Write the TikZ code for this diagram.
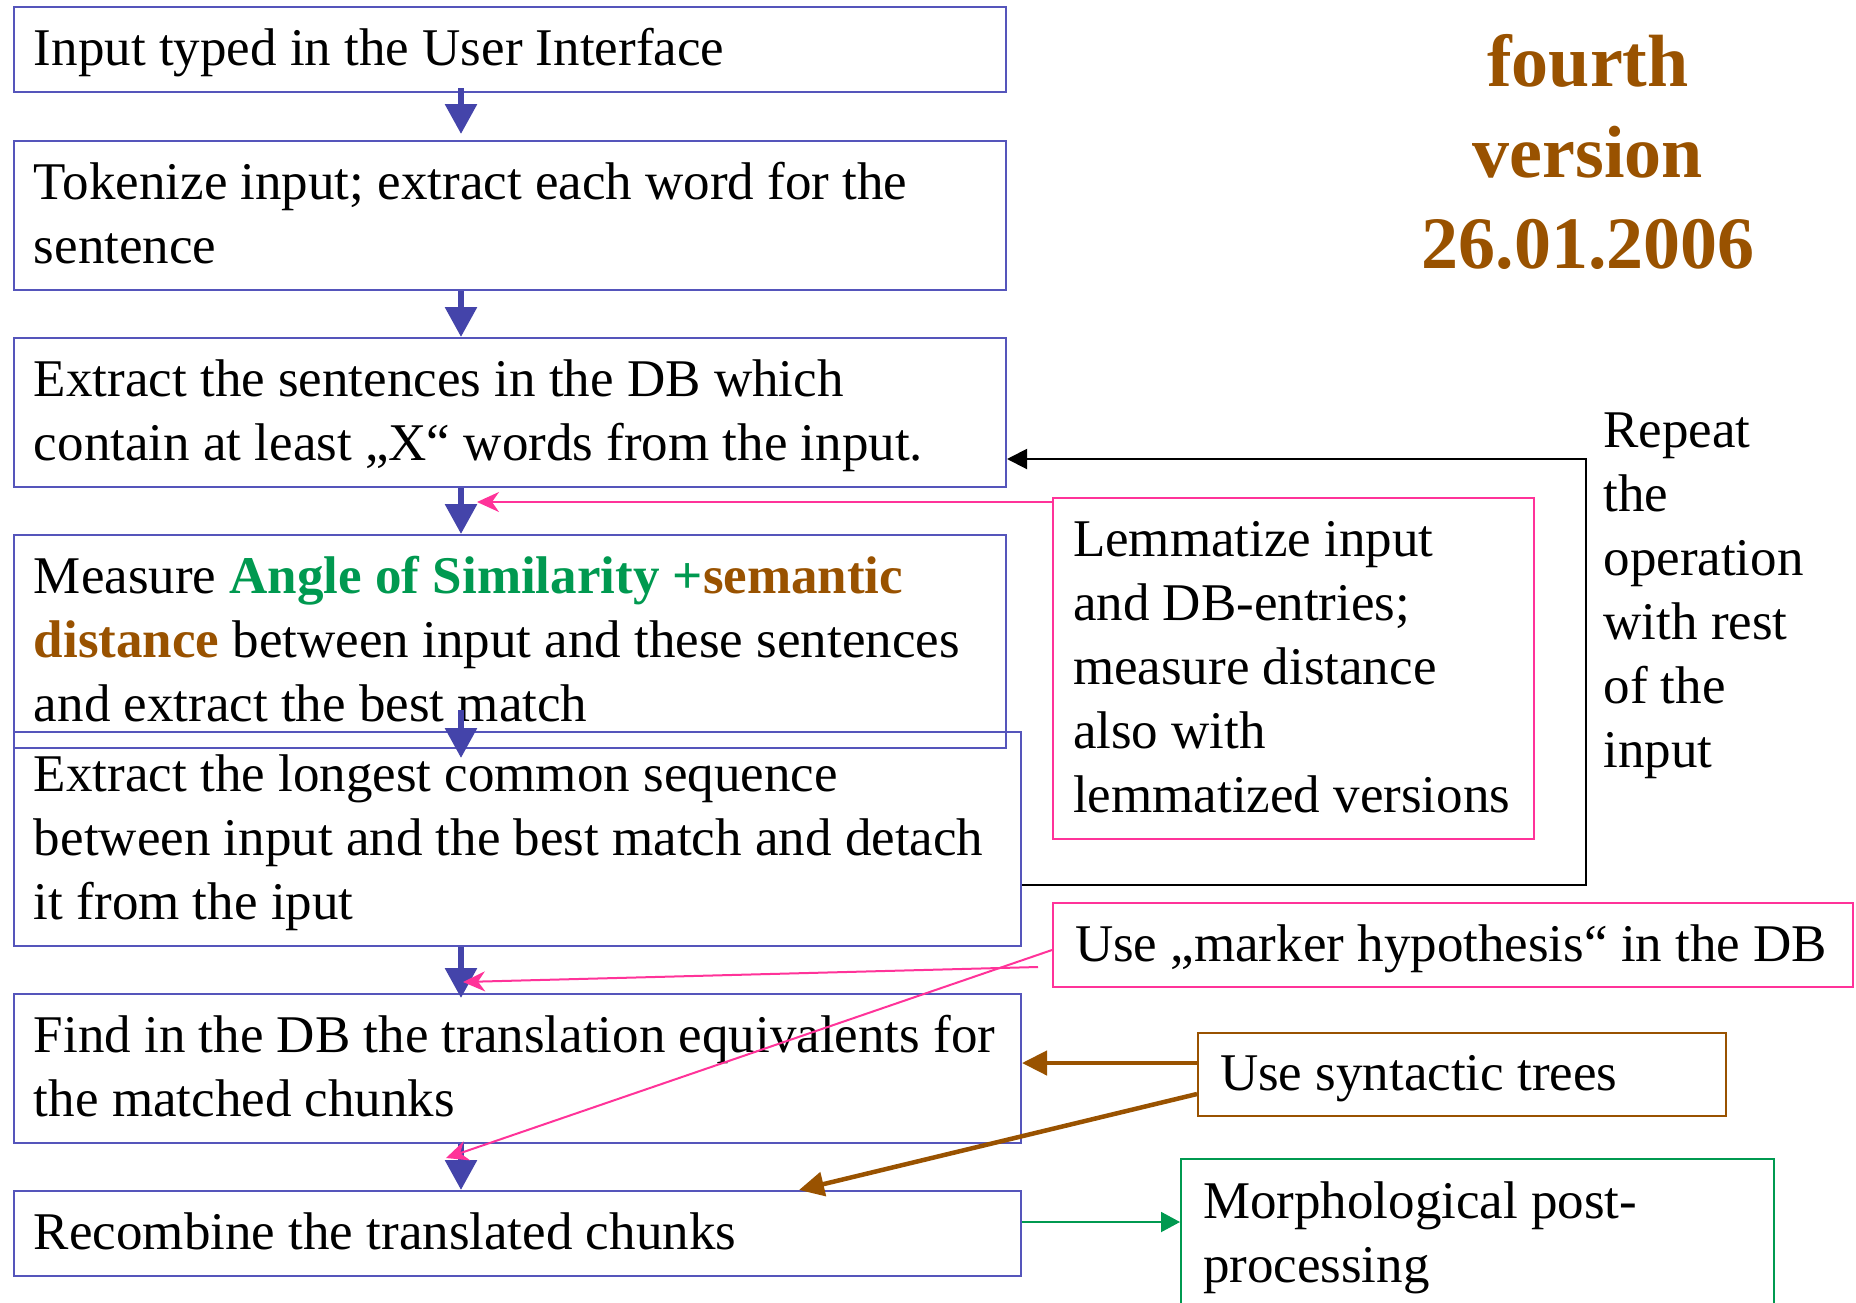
\documentclass[tikz,border=0pt]{standalone}
\usepackage{fontspec}
\setmainfont{Liberation Serif}
\usetikzlibrary{arrows.meta,calc}

\definecolor{flowblue}{RGB}{85,85,187}
\definecolor{arrowblue}{RGB}{68,68,170}
\definecolor{hotpink}{RGB}{255,51,153}
\definecolor{rust}{RGB}{153,82,0}
\definecolor{leafgreen}{RGB}{0,153,80}

% left-aligned block of explicit lines, in a box of fixed width
\newcommand{\boxlines}[2]{\raisebox{-3.5pt}[\height][\depth]{\makebox[#1][l]{\begin{tabular}{@{}l@{}}#2\end{tabular}}}}

\begin{document}
\begin{tikzpicture}[x=1pt,y=1pt,
  every node/.style={font=\fontsize{53}{64}\selectfont},
  basebox/.style={rectangle, anchor=north west,
    inner xsep=20pt, inner ysep=0pt, line width=2pt},
  flowbox/.style={basebox, draw=flowblue},
  pinkbox/.style={basebox, draw=hotpink},
  sidebox/.style={basebox, inner xsep=22pt},
  mainarrow/.style={draw=arrowblue, line width=6pt,
    -{Triangle[length=30pt,width=31pt]}},
  pinkarrow/.style={draw=hotpink, line width=2pt,
    -{Stealth[length=22pt,width=20pt,inset=7pt]}},
  brownarrow/.style={draw=rust, line width=4.5pt,
    -{Triangle[length=25pt,width=24pt]}},
  greenarrow/.style={draw=leafgreen, line width=2pt,
    -{Triangle[length=19pt,width=20pt]}},
  looparrow/.style={draw=black, line width=2pt,
    -{Triangle[length=20pt,width=20pt]}}
]
\clip (0,0) rectangle (1856,-1302);
\useasboundingbox (0,0) rectangle (1856,-1302);

% main pipeline
\node[flowbox, minimum width=992pt, minimum height=85pt] (b1) at (13,-6)
  {\boxlines{952pt}{Input typed in the User Interface}};
\node[flowbox, minimum width=992pt, minimum height=149pt] (b2) at (13,-140)
  {\boxlines{952pt}{Tokenize input; extract each word for the\\sentence}};
\node[flowbox, minimum width=992pt, minimum height=149pt] (b3) at (13,-337)
  {\boxlines{952pt}{Extract the sentences in the DB which\\contain at least „X“ words from the input.}};
\node[flowbox, minimum width=992pt, minimum height=213pt] (b4) at (13,-534)
  {\boxlines{952pt}{Measure \textcolor{leafgreen}{\bfseries Angle of Similarity +}\textcolor{rust}{\bfseries semantic}\\
   \textcolor{rust}{\bfseries distance} between input and these sentences\\
   and extract the best match}};
\node[flowbox, minimum width=1007pt, minimum height=214pt] (b5) at (13,-731)
  {\boxlines{967pt}{Extract the longest common sequence\\between input and the best match and detach\\it from the iput}};
\node[flowbox, minimum width=1007pt, minimum height=149pt] (b6) at (13,-993)
  {\boxlines{967pt}{Find in the DB the translation equivalents for\\the matched chunks}};
\node[flowbox, minimum width=1007pt, minimum height=85pt] (b7) at (13,-1190)
  {\boxlines{967pt}{Recombine the translated chunks}};

% side boxes
\node[pinkbox, minimum width=481pt, minimum height=341pt] (lemm) at (1052,-497)
  {\boxlines{441pt}{Lemmatize input\\and DB-entries;\\measure distance\\also with\\lemmatized versions}};
\node[pinkbox, sidebox, minimum width=800pt, minimum height=84pt] (mark) at (1052,-902)
  {\boxlines{756pt}{Use „marker hypothesis“ in the DB}};
\node[sidebox, draw=rust, minimum width=528pt, minimum height=83pt] (synt) at (1197,-1032)
  {\boxlines{484pt}{Use syntactic trees}};
\node[sidebox, draw=leafgreen, minimum width=593pt, minimum height=150pt] (morph) at (1180,-1158)
  {\boxlines{549pt}{Morphological post-\\processing}};

% headings
\node[font=\fontsize{74}{91}\selectfont\bfseries, text=rust, align=center] (title) at (1588,-152)
  {fourth\\version\\26.01.2006};
\node[anchor=base west, align=left] (rep) at (1600,-767)
  {Repeat\\the\\operation\\with rest\\of the\\input};

% vertical flow arrows
\coordinate (ax) at (461,0);
\draw[mainarrow] ([yshift=5pt]b1.south -| ax) -- ([yshift=6pt]b2.north -| ax);
\draw[mainarrow] (b2.south -| ax) -- (b3.north -| ax);
\draw[mainarrow] (b3.south -| ax) -- (b4.north -| ax);
\draw[mainarrow] ([yshift=21pt]b5.north -| ax) -- ([yshift=-27pt]b5.north -| ax);
\draw[mainarrow] (b5.south -| ax) -- ([yshift=-5pt]b6.north -| ax);
\draw[mainarrow] (b6.south -| ax) -- (b7.north -| ax);

% repeat loop
\coordinate (loopA) at (1586,-885);
\coordinate (loopB) at (1586,-459);
\draw[looparrow] (b5.east |- loopA) -- (loopA) -- (loopB) -- (b3.east |- loopB);

% lemmatization and marker hints
\coordinate (pk1) at (477,-502);
\draw[pinkarrow] (lemm.west |- pk1) -- (pk1);
\coordinate (pk2s) at (1038,-967);
\coordinate (pk2) at (463,-982);
\draw[pinkarrow] (pk2s) -- (pk2);
\coordinate (pk3s) at (mark.west |- 0,-950);
\coordinate (pk3) at (446,-1158);
\draw[pinkarrow] (pk3s) -- (pk3);

% syntactic trees
\coordinate (sy1) at (synt.west |- 0,-1063);
\draw[brownarrow] (sy1) -- (b6.east |- sy1);
\coordinate (sy2) at (synt.west |- 0,-1094);
\coordinate (sy2e) at (799,-1190);
\draw[brownarrow] (sy2) -- (sy2e);

% post-processing
\coordinate (gr) at (b7.east |- 0,-1222);
\draw[greenarrow] (gr) -- (morph.west |- gr);
\end{tikzpicture}
\end{document}
